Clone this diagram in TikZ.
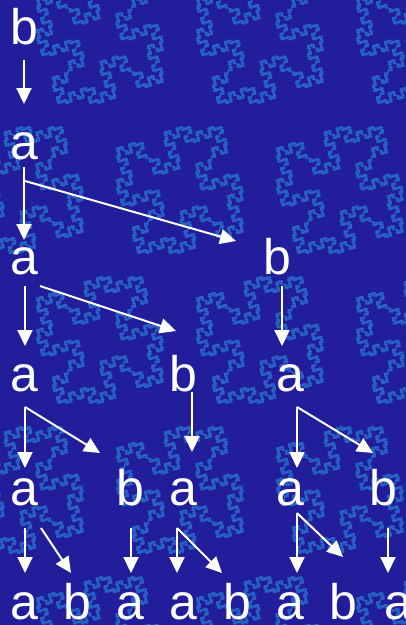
\documentclass[tikz,border=0pt]{standalone}
\usepackage{fontspec}
\setmainfont{Liberation Sans}
\usetikzlibrary{arrows.meta,calc,lindenmayersystems}
\definecolor{bgblue}{RGB}{33,29,155}
\definecolor{fractalblue}{RGB}{40,100,198}
% quadratic Koch island, every right angle split into two 45 degree turns
\pgfdeclarelindenmayersystem{Koch island}{
  \rule{F -> F++F--F--FF++F++F--F}
}
\begin{document}
\begin{tikzpicture}[x=1pt,y=-1pt,
  sym/.style={text=white,font=\fontsize{50}{50}\selectfont,inner sep=0pt,
    anchor=base,text height=36pt,text depth=0pt},
  arr/.style={draw=white,line width=2pt,-{Triangle[width=15pt,length=16pt]}},
  island/.style={draw=fractalblue,line width=1.2pt,line join=round,
    lindenmayer system={Koch island, axiom=+F--F--F--F, order=3, step=1.4pt, angle=45}}]
\fill[bgblue] (0,0) rectangle (406,625);
\useasboundingbox (0,0) rectangle (406,625);

% faint fractal islands in the background
\begin{scope}
\clip (0,0) rectangle (406,625);
\foreach \cx/\cy in {100/40, 260/40, 420/40,
                     20/190, 180/190, 340/190,
                     100/340, 260/340, 420/340,
                     20/490, 180/490, 340/490,
                     100/640, 260/640, 420/640}{
  \begin{scope}[shift={(\cx-63.4,\cy)}]
    \path[island] (0,0) lindenmayer system;
  \end{scope}
}
\end{scope}

% generation 0
\node[sym] (n0) at (24,44) {b};
% generation 1
\node[sym] (n1) at (24,159) {a};
% generation 2
\node[sym] (n2a) at (24,274) {a};
\node[sym] (n2b) at (277,274) {b};
% generation 3
\node[sym] (n3a) at (24,391) {a};
\node[sym] (n3b) at (183,391) {b};
\node[sym] (n3c) at (290,391) {a};
% generation 4
\node[sym] (n4a) at (24,505) {a};
\node[sym] (n4b) at (130,505) {b};
\node[sym] (n4c) at (183,505) {a};
\node[sym] (n4d) at (290,505) {a};
\node[sym] (n4e) at (383,505) {b};
% generation 5
\node[sym] (n5a) at (24,619) {a};
\node[sym] (n5b) at (77,619) {b};
\node[sym] (n5c) at (130,619) {a};
\node[sym] (n5d) at (183,619) {a};
\node[sym] (n5e) at (237,619) {b};
\node[sym] (n5f) at (290,619) {a};
\node[sym] (n5g) at (343,619) {b};
\node[sym] (n5h) at (398,619) {a};

% rewriting b -> a, a -> ab
\draw[arr] ($(n0.base)+(0,16)$) -- ($(n1.base)+(0,-55)$);

\draw[arr] ($(n1.base)+(0,8)$) -- ($(n2a.base)+(0,-34)$);
\draw[arr] ($(n1.base)+(1,22)$) -- ($(n2b.base)+(-41,-33)$);

\draw[arr] ($(n2a.base)+(1,12)$) -- ($(n3a.base)+(1,-45)$);
\draw[arr] ($(n2a.base)+(16,12)$) -- ($(n3b.base)+(-7,-60)$);
\draw[arr] ($(n2b.base)+(5,12)$) -- ($(n3c.base)+(-8,-45)$);

\draw[arr] ($(n3a.base)+(1,16)$) -- ($(n4a.base)+(1,-37)$);
\draw[arr] ($(n3a.base)+(1,16)$) -- ($(n4b.base)+(-30,-52)$);
\draw[arr] ($(n3b.base)+(9,1)$) -- ($(n4c.base)+(9,-53)$);
\draw[arr] ($(n3c.base)+(7,16)$) -- ($(n4d.base)+(7,-37)$);
\draw[arr] ($(n3c.base)+(7,16)$) -- ($(n4e.base)+(-10,-52)$);

\draw[arr] ($(n4a.base)+(1,23)$) -- ($(n5a.base)+(1,-46)$);
\draw[arr] ($(n4a.base)+(17,23)$) -- ($(n5b.base)+(-6,-46)$);
\draw[arr] ($(n4b.base)+(1,23)$) -- ($(n5c.base)+(1,-46)$);
\draw[arr] ($(n4c.base)+(-6,23)$) -- ($(n5d.base)+(-6,-46)$);
\draw[arr] ($(n4c.base)+(-6,23)$) -- ($(n5e.base)+(-15,-46)$);
\draw[arr] ($(n4d.base)+(7,8)$) -- ($(n5f.base)+(7,-46)$);
\draw[arr] ($(n4d.base)+(7,8)$) -- ($(n5g.base)+(0,-62)$);
\draw[arr] ($(n4e.base)+(5,23)$) -- ($(n5h.base)+(-10,-46)$);
\end{tikzpicture}
\end{document}
